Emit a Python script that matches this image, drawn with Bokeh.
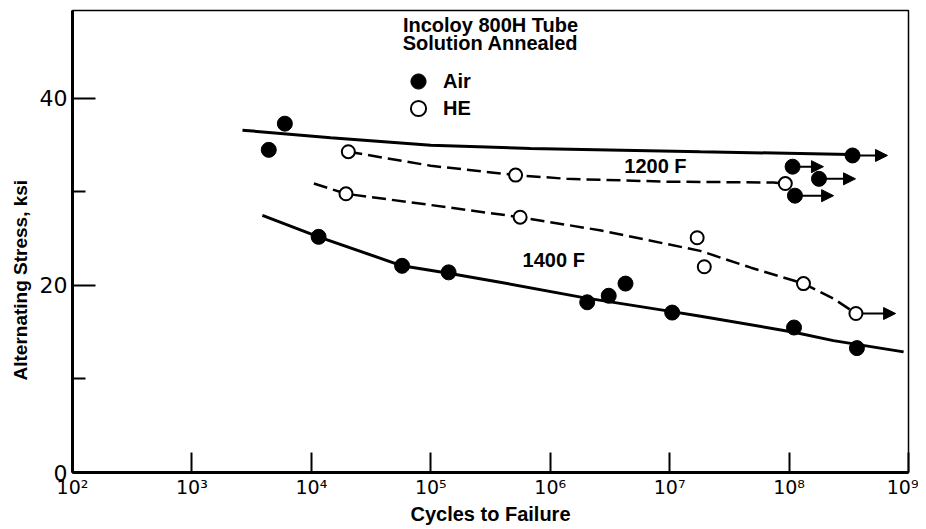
import numpy as np
from bokeh.plotting import figure
from bokeh.models import (Range1d, FixedTicker, Label, Legend, LegendItem, Title,
                          Arrow, NormalHead, ColumnDataSource)
from bokeh.embed import file_html
from bokeh.resources import INLINE

# ---------------- data ----------------
x_ticks = [100, 1000, 10000, 100000, 1000000, 10000000, 100000000, 1000000000]
x_tick_labels = ["10²", "10³", "10⁴", "10⁵", "10⁶", "10⁷", "10⁸", "10⁹"]
y_ticks = [0, 20, 40]
y_minor_ticks = [10, 30]

# 1200 F, air (filled)
air_1200_cycles = [4.4e3, 6.0e3, 1.07e8, 1.78e8, 1.12e8, 3.4e8]
air_1200_stress = [34.5, 37.3, 32.7, 31.4, 29.6, 33.9]
# 1400 F, air (filled)
air_1400_cycles = [1.15e4, 5.75e4, 1.41e5, 2.04e6, 3.09e6, 4.27e6, 1.05e7, 1.1e8, 3.7e8]
air_1400_stress = [25.2, 22.1, 21.4, 18.2, 18.9, 20.2, 17.1, 15.5, 13.3]
# 1200 F, HE (open)
he_1200_cycles = [2.04e4, 5.13e5, 9.3e7]
he_1200_stress = [34.3, 31.8, 30.9]
# 1400 F, HE (open)
he_1400_cycles = [1.95e4, 5.6e5, 1.7e7, 1.95e7, 1.32e8, 3.63e8]
he_1400_stress = [29.8, 27.3, 25.1, 22.0, 20.2, 17.0]

# run-outs (arrows)
air_runout_cycles = [1.07e8, 1.78e8, 1.12e8, 3.4e8]
air_runout_stress = [32.7, 31.4, 29.6, 33.9]
air_runout_end = [1.94e8, 3.6e8, 2.36e8, 6.67e8]
he_runout_cycles = [3.63e8]
he_runout_stress = [17.0]
he_runout_end = [7.8e8]

# hand-drawn fit curves
fit_air_1200_cycles = [2.65e3, 1.45e4, 1.0e5, 6.84e5, 1.81e7, 3.27e8]
fit_air_1200_stress = [36.6, 35.8, 35.0, 34.65, 34.3, 34.0]
fit_he_1200_cycles = [2.04e4, 1.0e5, 5.13e5, 1.38e6, 9.5e6, 7.4e7, 9.3e7]
fit_he_1200_stress = [34.3, 32.8, 31.8, 31.4, 31.1, 31.0, 30.9]
fit_he_1400_cycles = [1.05e4, 1.95e4, 1.0e5, 5.6e5, 2.6e6, 1.8e7, 4.8e7, 1.32e8, 2.35e8, 3.63e8]
fit_he_1400_stress = [30.9, 29.8, 28.6, 27.3, 25.9, 23.7, 21.9, 20.2, 18.6, 17.0]
fit_air_1400_cycles = [3.89e3, 1.15e4, 5.75e4, 1.41e5, 3.8e5, 1.9e6, 1.05e7, 1.82e7, 1.1e8, 2.35e8, 9.1e8]
fit_air_1400_stress = [27.5, 25.2, 22.1, 21.3, 20.35, 18.7, 17.2, 16.7, 15.0, 14.1, 12.9]

FONT = "Liberation Sans"
TXT = "20px"

p = figure(x_axis_type="log", x_range=Range1d(1e2, 1e9), y_range=Range1d(0, 49.4),
           frame_width=836, frame_height=462,
           min_border_left=72, min_border_right=10, min_border_top=10, min_border_bottom=49,
           output_backend="svg", toolbar_location=None)

p.xgrid.visible = False
p.ygrid.visible = False
p.outline_line_color = "black"
p.outline_line_width = 1.5

# axes
p.xaxis.ticker = FixedTicker(ticks=x_ticks, minor_ticks=[])
p.xaxis.major_label_overrides = {t: l for t, l in zip(x_ticks, x_tick_labels)}
p.yaxis.ticker = FixedTicker(ticks=y_ticks, minor_ticks=y_minor_ticks)
for ax in (p.xaxis[0], p.yaxis[0]):
    ax.axis_line_width = 3
    ax.axis_line_color = "black"
    ax.major_tick_out = 0
    ax.minor_tick_out = 0
    ax.major_tick_line_width = 2
    ax.minor_tick_line_width = 2
    ax.major_tick_line_color = "black"
    ax.minor_tick_line_color = "black"
    ax.major_label_text_color = "black"
p.xaxis.major_tick_in = 20
p.xaxis.minor_tick_in = 0
p.yaxis.major_tick_in = 23
p.yaxis.minor_tick_in = 13
p.xaxis.major_label_text_font = "DejaVu Sans"
p.xaxis.major_label_text_font_size = "19px"
p.xaxis.major_label_standoff = 3
p.yaxis.major_label_text_font = "DejaVu Sans"
p.yaxis.major_label_text_font_size = "22px"
p.yaxis.major_label_standoff = 5

p.xaxis.axis_label = "Cycles to Failure"
p.xaxis.axis_label_text_font = FONT
p.xaxis.axis_label_text_font_style = "bold"
p.xaxis.axis_label_text_font_size = TXT
p.xaxis.axis_label_text_color = "black"
p.xaxis.axis_label_standoff = 2

# y-axis title, started near the bottom of the axis as in the original
p.add_layout(Title(text="Alternating Stress, ksi", align="left", offset=92,
                   text_font=FONT, text_font_style="bold", text_font_size="19px",
                   text_color="black", standoff=12), "left")

# fit curves
p.line(fit_air_1200_cycles, fit_air_1200_stress, line_width=3, color="black")
p.line(fit_air_1400_cycles, fit_air_1400_stress, line_width=3, color="black")
p.line(fit_he_1200_cycles, fit_he_1200_stress, line_width=2.5, color="black", line_dash="14 6")
p.line(fit_he_1400_cycles, fit_he_1400_stress, line_width=2.5, color="black", line_dash="14 6")

# run-out arrows
for xs, ys, xe in ((air_runout_cycles, air_runout_stress, air_runout_end),
                   (he_runout_cycles, he_runout_stress, he_runout_end)):
    src = ColumnDataSource(dict(x0=xs, y0=ys, x1=xe, y1=ys))
    p.add_layout(Arrow(end=NormalHead(size=12, fill_color="black", line_color="black"),
                       x_start="x0", y_start="y0", x_end="x1", y_end="y1",
                       source=src, line_width=2, line_color="black", level="underlay"))

# markers
r_air = p.scatter(air_1200_cycles, air_1200_stress, size=15, fill_color="black", line_color="black")
p.scatter(air_1400_cycles, air_1400_stress, size=15, fill_color="black", line_color="black")
r_he = p.scatter(he_1200_cycles, he_1200_stress, size=13, fill_color="white", line_color="black", line_width=2)
p.scatter(he_1400_cycles, he_1400_stress, size=13, fill_color="white", line_color="black", line_width=2)

# legend
for lab, r, yb in (("Air", r_air, 372), ("HE", r_he, 345)):
    lg = Legend(items=[LegendItem(label=lab, renderers=[r])], location=(327, yb),
                glyph_width=38, glyph_height=38, label_standoff=6, padding=0, margin=0,
                background_fill_alpha=0, border_line_alpha=0,
                label_text_font=FONT, label_text_font_style="bold",
                label_text_font_size=TXT, label_text_color="black")
    p.add_layout(lg)

# text annotations
for txt, yy in (("Incoloy 800H Tube", 448), ("Solution Annealed", 430)):
    p.add_layout(Label(x=418, y=yy, x_units="screen", y_units="screen", text=txt,
                       text_align="center", text_baseline="middle",
                       text_font=FONT, text_font_style="bold", text_font_size=TXT,
                       text_color="black"))
for txt, xx, yy in (("1200 F", 7.6e6, 32.8), ("1400 F", 1.07e6, 22.7)):
    p.add_layout(Label(x=xx, y=yy, text=txt, text_align="center", text_baseline="middle",
                       text_font=FONT, text_font_style="bold", text_font_size=TXT,
                       text_color="black"))

open("out.html", "w").write(file_html(p, INLINE))
